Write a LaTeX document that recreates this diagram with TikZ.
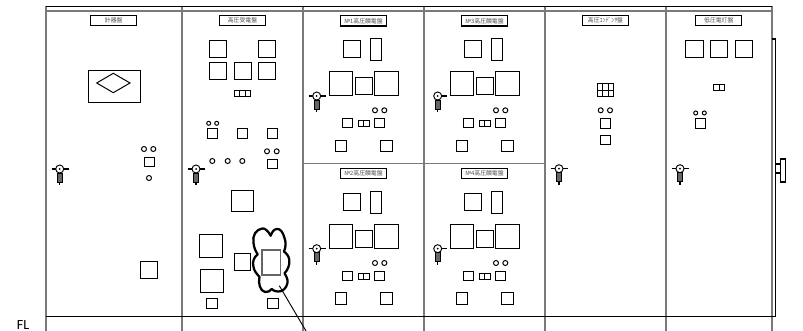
\documentclass[tikz,border=0pt]{standalone}
\usepackage{fontspec}
\newfontfamily\cjkfont{Noto Sans CJK JP}
\newfontfamily\flfont{Carlito}
\tikzset{
	panelline/.style={draw=black!52,line width=1.4pt},
	frameline/.style={draw=black,line width=0.9pt},
	part/.style={draw=black,line width=0.74pt},
	plate/.style={draw=black,line width=0.9pt,minimum width=34.5pt,minimum height=7.7pt,inner sep=0pt,font=\cjkfont\fontsize{4.4pt}{5pt}\selectfont,text=black!70},
	handle/.pic={
		\draw[line width=0.8pt] (0,0) -- (9,0);
		\draw[line width=0.7pt,fill=white] (0,0) circle (4);
		\fill (0,0) circle (1);
		\draw[line width=0.4pt,fill=black!60] (-2.4,-4) rectangle (2.4,-13);
		\draw[line width=0.9pt] (0,-13) -- (0,-16);
	},
	handle left/.pic={
		\draw[line width=0.8pt] (-8,0) -- (-4,0);
		\pic {handle};
	},
}

\begin{document}
\begin{tikzpicture}[x=0.75pt,y=0.75pt,yscale=-1,xscale=1]
	\useasboundingbox (0,0) rectangle (803,331);

	%Frame
	\foreach \x in {46,182,303,424,545,666,772}
		\draw[panelline] (\x,6.5) -- (\x,331);
	\draw[panelline] (303,163.5) -- (545,163.5);
	\draw[panelline,line width=1.1pt] (46,11) -- (772,11);
	\draw[frameline] (46,6.5) -- (772,6.5);
	\draw[frameline] (772,39) -- (775.3,39) -- (775.3,316.5);
	\draw[frameline] (46,316.5) -- (775.3,316.5);
	%Door handle at the right
	\draw[frameline,fill=white] (780.3,159) rectangle (785.7,182);
	\draw[frameline] (775.3,164) -- (780.3,164);
	\draw[frameline] (775.3,173) -- (780.3,173);

	% Text Node
	\node[plate] (plate a) at (113.7,20.7) {計器盤};
	\node[plate] (plate b) at (242.5,20.7) {高圧受電盤};
	\node[plate] (plate c) at (605.5,20.7) {高圧ｺﾝﾃﾞﾝｻ盤};
	\node[plate] (plate d) at (718.8,20.7) {低圧電灯盤};
	\node[font=\flfont\fontsize{10.5pt}{12pt}\selectfont] (fl) at (23,325) {FL};

	%Meter panel
	\draw[part] (88,70) rectangle (140,102.3);
	\draw[part] (96.7,83) -- (113.3,73.3) -- (130,83) -- (113.3,92.7) -- cycle;
	\draw[part] (144,149) circle (2.5) (153.3,149) circle (2.5);
	\draw[part] (144,157) rectangle (154,166.7);
	\draw[part] (149,178) circle (2.5);
	\draw[part] (140.3,261) rectangle (157.7,278.3);
	\pic at (59.7,169) {handle left};

	%Receiving panel
	\foreach \x/\y in {209.3/40.3,258.3/40.3,209.3/62.3,234/62.3,258.3/62.3}
		\draw[part] (\x,\y) rectangle ++(17.4,17.4);
	\draw[part] (234.3,90.3) rectangle (250.7,96.3);
	\draw[part] (239.8,90.3) -- (239.8,96.3) (245.2,90.3) -- (245.2,96.3);
	\draw[part] (208.7,123.3) circle (2) (216.7,123.3) circle (2);
	\foreach \x in {207.7,237.3,267}
		\draw[part] (\x,128.7) rectangle ++(10.2,10);
	\foreach \x in {212.3,227.7,242.3,267,276.7}
		\draw[part] (\x,{\x>250 ? 151.3 : 161}) circle (2.5);
	\draw[part] (267.3,159) rectangle (277.3,168.3);
	\pic at (196,169) {handle left};
	\draw[part] (231.7,190) rectangle (253.7,211.7);
	\draw[part] (199.3,234.7) rectangle (222.7,257.7);
	\draw[part] (234,253.3) rectangle (250.7,270.3);
	\draw[part] (200.3,269.3) rectangle (223.3,292.3);
	\draw[part] (206.3,298) rectangle (217.7,308.7);
	\draw[part] (267.3,298) rectangle (278.3,308.7);
	\draw[part,draw=black!60,line width=1pt] (262,250) rectangle (280.3,275);

	%Cloud
	\draw[line width=1.7pt,line join=round] (270.7,235.7)
		.. controls (268,231) and (265,228) .. (262.5,228.5)
		.. controls (256,229) and (252,236) .. (253.5,243)
		.. controls (254,248) and (256,252) .. (257.7,254.3)
		.. controls (254,257) and (252,262) .. (253.5,267)
		.. controls (254,271) and (257,274) .. (259.5,277)
		.. controls (258,283) and (260,291) .. (265,292)
		.. controls (268,292.5) and (270,291) .. (271.7,289)
		.. controls (274,291.5) and (278,292) .. (281.5,291)
		.. controls (286,289) and (288,284) .. (287.5,280)
		.. controls (287,277) and (285.5,275) .. (284.5,273.3)
		.. controls (288,270) and (290,264) .. (289.3,260)
		.. controls (289,256) and (286,253) .. (284,251.5)
		.. controls (286,247) and (286,242) .. (284.5,238)
		.. controls (283,232) and (280,228.5) .. (277,229)
		.. controls (274,229) and (272,232) .. (270.7,235.7) -- cycle;
	\coordinate (cloud end) at (279.3,285.7);
	\coordinate (leader end) at (306,331);
	\draw[line width=0.7pt] (cloud end) -- (leader end);

	%Feeder panels
	\foreach \dx/\dy/\no in {0/0/1,121/0/3,0/152.7/2,121/152.7/4}{
		\begin{scope}[shift={(\dx,\dy)}]
			\node[plate] (plate \no) at (363.5,20.9) {№\no 高圧饋電盤};
			\draw[part] (343,40.3) rectangle (360.7,57.7);
			\draw[part] (370.7,38.7) rectangle (381.7,60.3);
			\draw[part] (329,71.7) rectangle (352.7,95.3);
			\draw[part] (355,77.3) rectangle (372,94.3);
			\draw[part] (374.7,71.7) rectangle (398,95.3);
			\draw[part] (375,110.3) circle (2.5) (384.3,110.3) circle (2.5);
			\draw[part] (342.3,118.3) rectangle (352.3,127.7);
			\draw[part] (358.3,120.3) rectangle (369,126.3);
			\draw[part] (363.6,120.3) -- (363.6,126.3);
			\draw[part] (374.3,118.3) rectangle (384.7,127.7);
			\draw[part] (335,140) rectangle (346,151.3);
			\draw[part] (380.7,140) rectangle (392,151.3);
			\ifnum\dx=0
				\pic at (316.7,96) {handle left};
			\else
				\pic at (316.7,96) {handle};
			\fi
		\end{scope}
	}

	%Capacitor panel
	\draw[part] (597.3,83.3) rectangle (613.3,96.7);
	\draw[part] (602.6,83.3) -- (602.6,96.7) (608,83.3) -- (608,96.7) (597.3,90) -- (613.3,90);
	\draw[part] (600.7,110.3) circle (2.5) (610,110.3) circle (2.5);
	\draw[part] (600.7,118.3) rectangle (610.3,128);
	\draw[part] (600.7,135) rectangle (610.3,144.7);
	\pic at (559,168.7) {handle left};

	%Lighting panel
	\foreach \x in {685.7,710.3,735}
		\draw[part] (\x,40.3) rectangle ++(17.4,17.4);
	\draw[part] (713.3,84) rectangle (724.7,90);
	\draw[part] (719,84) -- (719,90);
	\draw[part] (695.7,113) circle (2) (704.3,113) circle (2);
	\draw[part] (695.3,118.7) rectangle (705.3,128);
	\pic at (680,168.7) {handle left};

\end{tikzpicture}
\end{document}
